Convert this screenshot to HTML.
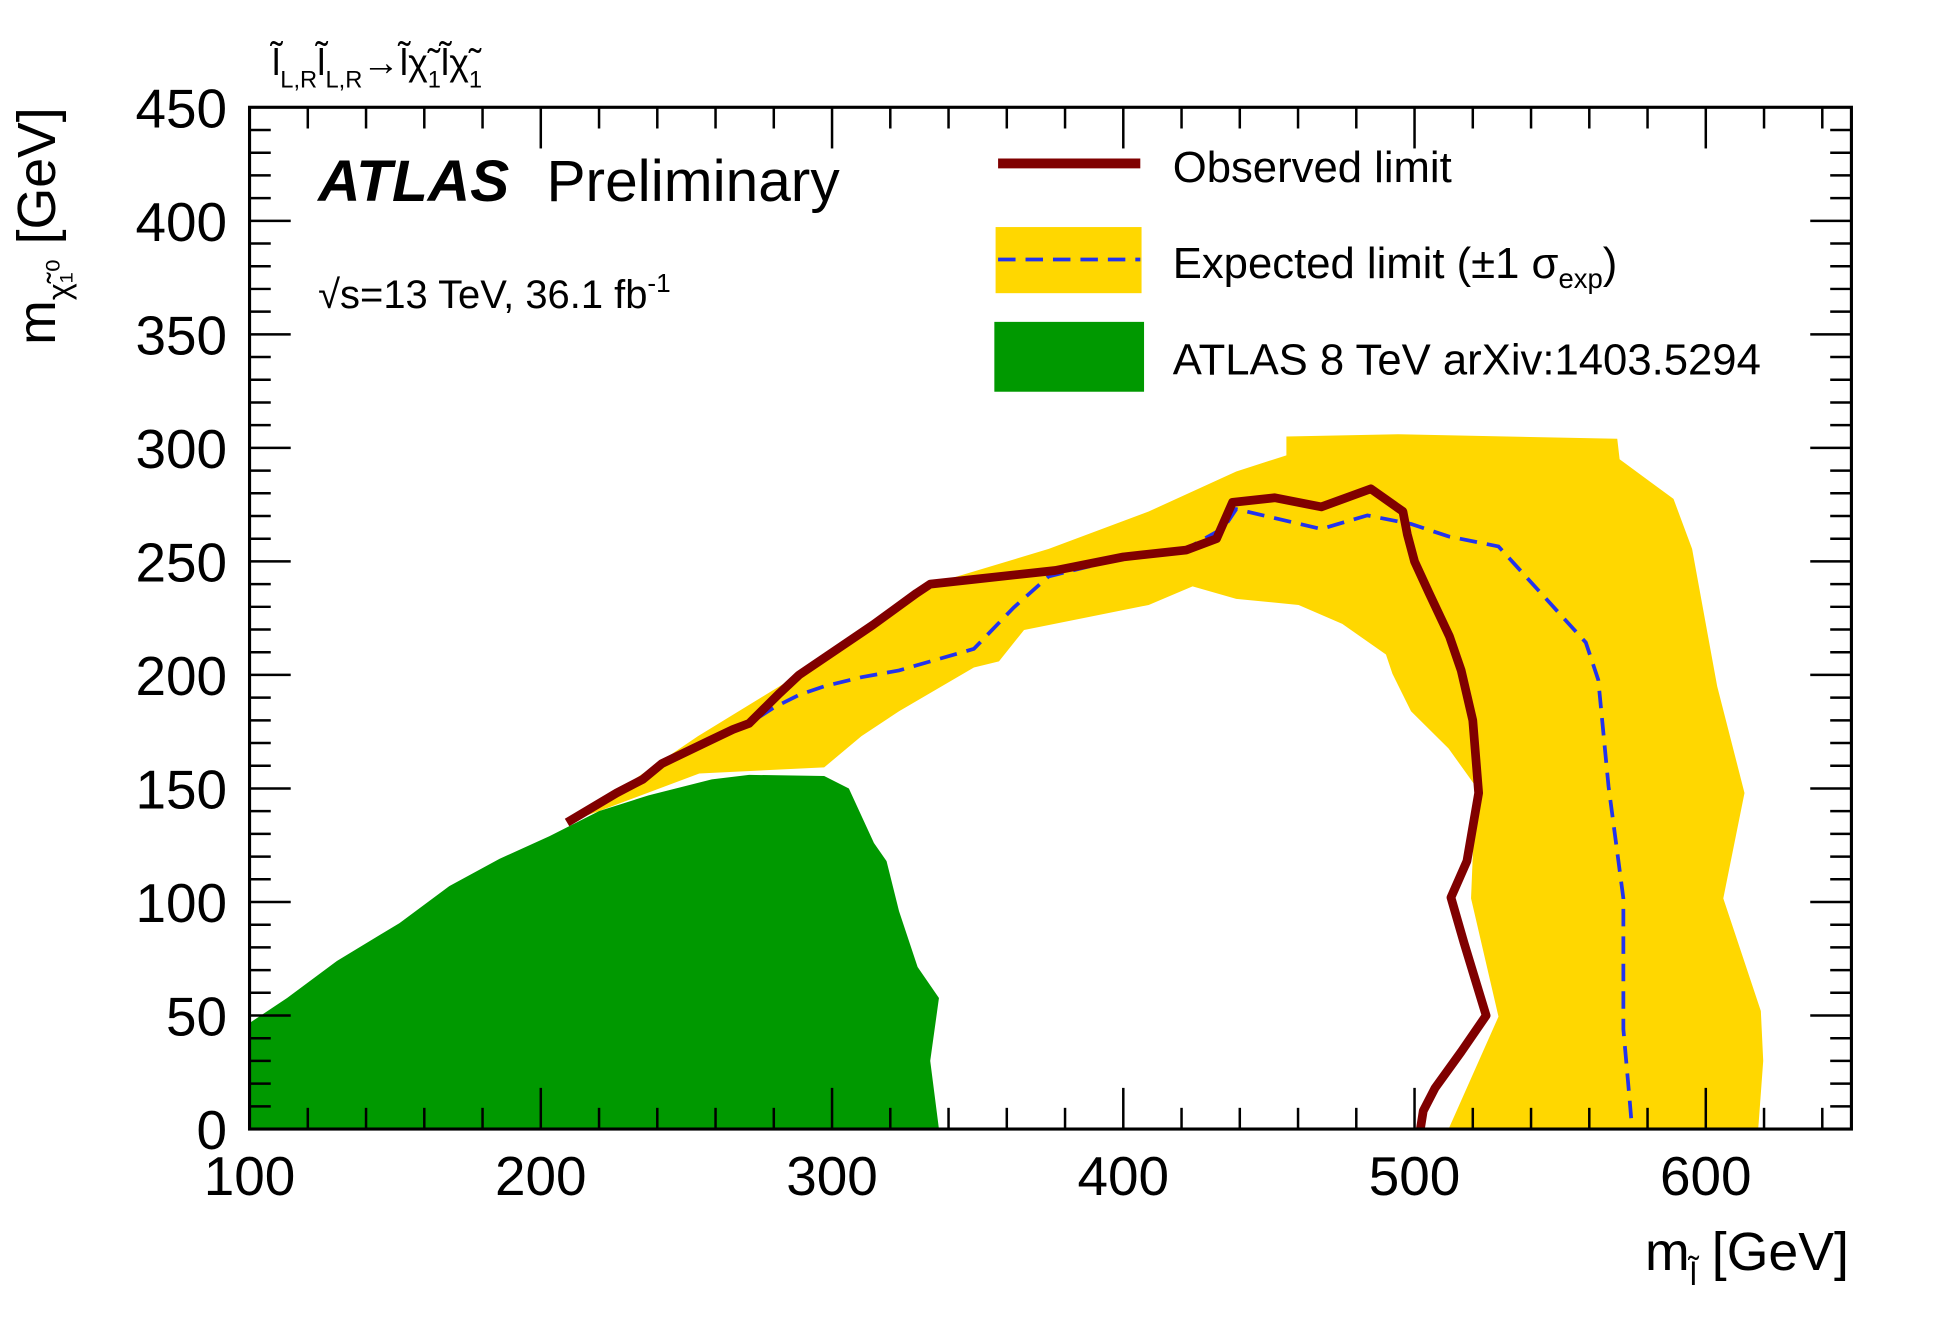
<!DOCTYPE html>
<html><head><meta charset="utf-8"><style>
html,body{margin:0;padding:0;background:#fff;}
svg{display:block;font-family:"Liberation Sans",sans-serif;}
</style></head><body>
<svg id="chart" width="1955" height="1343" viewBox="0 0 1567 1076.5" xmlns="http://www.w3.org/2000/svg">
<g id="layers"></g>
<text x="218" y="60" font-size="30">l̃<tspan font-size="19" dy="10">L,R</tspan><tspan dy="-10">l̃</tspan><tspan font-size="19" dy="10">L,R</tspan><tspan dy="-10">→l̃χ̃</tspan><tspan font-size="19" dy="10">1</tspan><tspan dy="-10">l̃χ̃</tspan><tspan font-size="19" dy="10">1</tspan></text>
<text x="255" y="161" font-size="47" font-weight="bold" font-style="italic">ATLAS</text>
<text x="438" y="161" font-size="47">Preliminary</text>
<text x="255" y="247" font-size="32">√s=13 TeV, 36.1 fb<tspan font-size="21" dy="-13">-1</tspan></text>
<g>
<line x1="800" y1="131" x2="914" y2="131" stroke="#800000" stroke-width="8"/>
<text x="940" y="146" font-size="35">Observed limit</text>
<rect x="798" y="182" width="117" height="53" fill="#ffd700"/>
<line x1="800" y1="208" x2="914" y2="208" stroke="#2233ee" stroke-width="3" stroke-dasharray="14,8"/>
<text x="940" y="223" font-size="35">Expected limit (±1 σ<tspan font-size="22" dy="8">exp</tspan><tspan dy="-8">)</tspan></text>
<rect x="797" y="258" width="120" height="56" fill="#009900"/>
<text x="940" y="300" font-size="35">ATLAS 8 TeV arXiv:1403.5294</text>
</g>
<text x="1482" y="1018" font-size="43" text-anchor="end">m<tspan font-size="26" dy="12">l̃</tspan><tspan dy="-12"> [GeV]</tspan></text>
<text transform="translate(44,86) rotate(-90)" font-size="43" text-anchor="end">m<tspan font-size="26" dy="12">χ̃₁⁰</tspan><tspan dy="-12"> [GeV]</tspan></text>
</svg>
<script>
const xGeV=[100,650], yGeV=[0,450];
const xTicks=[100,200,300,400,500,600];
const yTicks=[0,50,100,150,200,250,300,350,400,450];
const bandUpperX=[209,228.6,254,289,331.6,374.4,408.7,438.8,456,456,494.5,569.6,570.4,588.9,595.3,603.9,613.3,606,618.9,619.7,618];
const bandUpperY=[135,151,173,200.5,239,255.5,272,289.6,296.7,305,306,304,295,277.5,255.5,195,148,101.6,52,30,0];
const bandLowerX=[511.7,528.8,519.4,521,511.7,498.8,492.4,490.2,475.2,460.2,438.8,423.8,408.7,387.3,365.9,357.3,348.7,323,310.1,297.3,254.4,220];
const bandLowerY=[0,49.5,101.6,151,167.6,184,200.5,209,222.5,230.8,233.5,239,230.8,225.3,219.8,206,203.3,184,173,159.3,156.6,140];
const green8X=[100,100,112.9,130,151.5,168.6,185.8,203,220,237,258.7,271.5,297.3,305.8,314.4,318.7,323,329.4,336.7,333.7,336.7];
const green8Y=[0,46.7,57.7,74,90.7,107,119,129,140,147,154,156,155.5,150,126,118,96,71.4,57.7,30,0];
const obsX=[209,226,235,241.6,257.8,266,271.5,282,288.7,314,329,333.7,376.6,400,421.6,432,437.5,452,468,485,496,497.5,500,505,512,516,520,522,518,512.5,517,524.6,516,507,503,502];
const obsY=[135,148,154,161,171,176,178.6,192,200,222,236,240,246,252,255,260,276,278,274,282,272,262,250,236,217,202,180,148,118,102,82,50,34,18,8,0];
const expX=[266.4,271.5,280.1,288.7,297.3,310.1,323,348.7,362.4,374.4,400.2,421.6,434.5,438.8,468,483.8,498.8,511.7,528.8,558.8,563.1,566.6,571.7,571.7,573.8,574.7];
const expY=[175.8,178.6,185.7,191.2,195,199,202,211.5,229.7,243.4,251.6,255.5,264.8,273,264.3,270.3,266.5,261,256.6,214.3,197.8,151,101.6,44,13.7,0];

const L=200,R=1484,T=86,B=905;
const sx=v=>L+(v-xGeV[0])/(xGeV[1]-xGeV[0])*(R-L);
const sy=v=>B-(v-yGeV[0])/(yGeV[1]-yGeV[0])*(B-T);
const NS="http://www.w3.org/2000/svg";
const g=document.getElementById('layers');
function pts(xs,ys){return xs.map((x,i)=>sx(x).toFixed(1)+','+sy(ys[i]).toFixed(1)).join(' ');}
function mk(tag,attrs){const e=document.createElementNS(NS,tag);for(const k in attrs)e.setAttribute(k,attrs[k]);g.appendChild(e);return e;}

const band=mk('polygon',{points:pts(bandUpperX,bandUpperY)+' '+pts(bandLowerX,bandLowerY),fill:'#ffd700'});


const gr=mk('polygon',{points:pts(green8X,green8Y),fill:'#009900'});


const ex=mk('polyline',{points:pts(expX,expY),fill:'none',stroke:'#2233ee','stroke-width':3,'stroke-dasharray':'14,8'});


const ob=mk('polyline',{points:pts(obsX,obsY),fill:'none',stroke:'#800000','stroke-width':7,'stroke-linejoin':'round'});



const frame=mk('rect',{x:L,y:T,width:R-L,height:B-T,fill:'none',stroke:'#000','stroke-width':2.5});


for(let v=100;v<=650;v+=20){
  const maj=(v%100===0),len=maj?33:17,x=sx(v);
  mk('line',{x1:x,y1:B,x2:x,y2:B-len,stroke:'#000','stroke-width':2});
  mk('line',{x1:x,y1:T,x2:x,y2:T+len,stroke:'#000','stroke-width':2});
}
for(let v=0;v<=450;v+=10){
  const maj=(v%50===0),len=maj?33:17,y=sy(v);
  mk('line',{x1:L,y1:y,x2:L+len,y2:y,stroke:'#000','stroke-width':2});
  mk('line',{x1:R,y1:y,x2:R-len,y2:y,stroke:'#000','stroke-width':2});
}
xTicks.forEach(v=>{const t=mk('text',{x:sx(v),y:958,'font-size':44,'text-anchor':'middle'});t.textContent=v;

});
yTicks.forEach(v=>{const t=mk('text',{x:182,y:sy(v)+16,'font-size':44,'text-anchor':'end'});t.textContent=v;

});
</script>
</body></html>
